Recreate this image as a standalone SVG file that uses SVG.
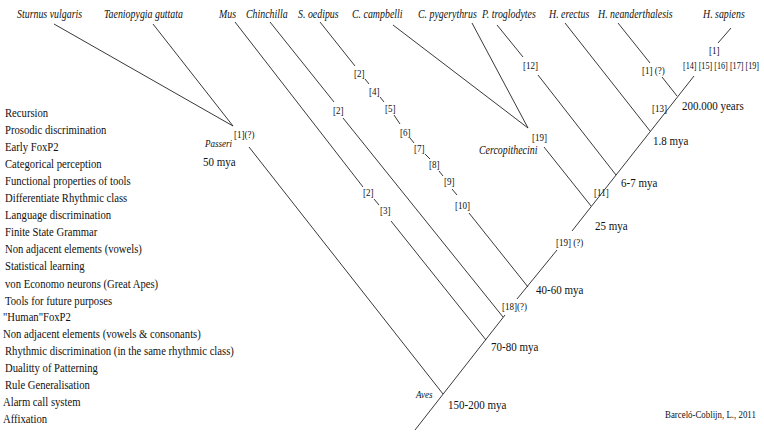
<svg xmlns="http://www.w3.org/2000/svg" width="764" height="440" viewBox="0 0 764 440">
<style>
text{font-family:"Liberation Serif","Times New Roman",serif;fill:#111}
.l{font-size:12.4px}
.n{font-size:12.8px}
.b{font-size:10.5px}
.bs{font-size:9.5px}
.i{font-size:11.5px;font-style:italic}
.s{font-size:10.5px;font-style:italic}
.c{font-size:10.3px}
#connectors line{stroke:#222;stroke-width:0.9;fill:none}
</style>
<rect width="764" height="440" fill="#fff"/>
<g id="traits">
<text class="l" transform="translate(5,117) scale(.86,1)">Recursion</text>
<text class="l" transform="translate(5,134) scale(.86,1)">Prosodic discrimination</text>
<text class="l" transform="translate(5,151) scale(.86,1)">Early FoxP2</text>
<text class="l" transform="translate(5,168) scale(.86,1)">Categorical perception</text>
<text class="l" transform="translate(5,185) scale(.86,1)">Functional properties of tools</text>
<text class="l" transform="translate(5,202) scale(.86,1)">Differentiate Rhythmic class</text>
<text class="l" transform="translate(5,219) scale(.86,1)">Language discrimination</text>
<text class="l" transform="translate(5,236) scale(.86,1)">Finite State Grammar</text>
<text class="l" transform="translate(5,253) scale(.86,1)">Non adjacent elements (vowels)</text>
<text class="l" transform="translate(5,270) scale(.86,1)">Statistical learning</text>
<text class="l" transform="translate(5,288) scale(.86,1)">von Economo neurons (Great Apes)</text>
<text class="l" transform="translate(5,305) scale(.86,1)">Tools for future purposes</text>
<text class="l" transform="translate(3,321) scale(.86,1)">"Human"FoxP2</text>
<text class="l" transform="translate(3,338) scale(.86,1)">Non adjacent elements (vowels &amp; consonants)</text>
<text class="l" transform="translate(5,355) scale(.86,1)">Rhythmic discrimination (in the same rhythmic class)</text>
<text class="l" transform="translate(5,372) scale(.86,1)">Dualitty of Patterning</text>
<text class="l" transform="translate(5,389) scale(.86,1)">Rule Generalisation</text>
<text class="l" transform="translate(3,406) scale(.86,1)">Alarm call system</text>
<text class="l" transform="translate(3,423) scale(.86,1)">Affixation</text>
</g>
<g id="connectors">
<line x1="54" y1="24" x2="233" y2="126"/>
<line x1="153" y1="24" x2="233" y2="126"/>
<line x1="249" y1="147" x2="443" y2="394"/>
<line x1="235" y1="22" x2="363" y2="187"/>
<line x1="374" y1="199" x2="379" y2="205"/>
<line x1="391" y1="221" x2="486" y2="340"/>
<line x1="270" y1="22" x2="334" y2="102"/>
<line x1="343" y1="118" x2="503" y2="317"/>
<line x1="320" y1="22" x2="355" y2="66"/>
<line x1="365" y1="79" x2="369" y2="84"/>
<line x1="380" y1="97" x2="384" y2="102"/>
<line x1="394" y1="115" x2="400" y2="124"/>
<line x1="410" y1="138" x2="414" y2="143"/>
<line x1="425" y1="154" x2="430" y2="159"/>
<line x1="439" y1="171" x2="443" y2="176"/>
<line x1="452" y1="189" x2="457" y2="195"/>
<line x1="469" y1="213" x2="528" y2="287"/>
<line x1="393" y1="25" x2="528" y2="128"/>
<line x1="472" y1="23" x2="528" y2="128"/>
<line x1="544" y1="147" x2="591" y2="206"/>
<line x1="497" y1="25" x2="523" y2="57"/>
<line x1="538" y1="75" x2="616" y2="175"/>
<line x1="565" y1="23" x2="650" y2="131"/>
<line x1="618" y1="23" x2="650" y2="63"/>
<line x1="662" y1="77" x2="677" y2="96"/>
<line x1="731" y1="28" x2="718" y2="43"/>
<line x1="415" y1="430" x2="505" y2="315"/>
<line x1="517" y1="299" x2="557" y2="250"/>
<line x1="572" y1="231" x2="694" y2="76"/>
</g>
<g id="taxa">
<text class="i" transform="translate(17,18) scale(.86,1)">Sturnus vulgaris</text>
<text class="i" transform="translate(104,18) scale(.86,1)">Taeniopygia guttata</text>
<text class="i" transform="translate(219,18) scale(.86,1)">Mus</text>
<text class="i" transform="translate(246,18) scale(.86,1)">Chinchilla</text>
<text class="i" transform="translate(298,18) scale(.86,1)">S. oedipus</text>
<text class="i" transform="translate(352,18) scale(.86,1)">C. campbelli</text>
<text class="i" transform="translate(418,18) scale(.86,1)">C. pygerythrus</text>
<text class="i" transform="translate(482,18) scale(.86,1)">P. troglodytes</text>
<text class="i" transform="translate(549,18) scale(.86,1)">H. erectus</text>
<text class="i" transform="translate(598,18) scale(.86,1)">H. neanderthalesis</text>
<text class="i" transform="translate(703,18) scale(.86,1)">H. sapiens</text>
</g>
<g id="node-passeri">
<text class="b" transform="translate(234,138) scale(.86,1)">[1](?)</text>
<text class="s" transform="translate(205,147) scale(.86,1)">Passeri</text>
<text class="n" transform="translate(203,166) scale(.86,1)">50 mya</text>
</g>
<g id="node-aves">
<text class="s" transform="translate(416,398) scale(.86,1)">Aves</text>
<text class="n" transform="translate(448,409) scale(.86,1)">150-200 mya</text>
</g>
<g id="node-mus">
<text class="b" transform="translate(363,196) scale(.86,1)">[2]</text>
<text class="b" transform="translate(380,214) scale(.86,1)">[3]</text>
<text class="n" transform="translate(491,351) scale(.86,1)">70-80 mya</text>
</g>
<g id="node-chinchilla">
<text class="b" transform="translate(333,114) scale(.86,1)">[2]</text>
<text class="b" transform="translate(502,310) scale(.86,1)">[18](?)</text>
</g>
<g id="node-oedipus">
<text class="b" transform="translate(354,77) scale(.86,1)">[2]</text>
<text class="b" transform="translate(369,95) scale(.86,1)">[4]</text>
<text class="b" transform="translate(385,112) scale(.86,1)">[5]</text>
<text class="b" transform="translate(400,136) scale(.86,1)">[6]</text>
<text class="b" transform="translate(414,152) scale(.86,1)">[7]</text>
<text class="b" transform="translate(429,168) scale(.86,1)">[8]</text>
<text class="b" transform="translate(444,185) scale(.86,1)">[9]</text>
<text class="b" transform="translate(455,209) scale(.86,1)">[10]</text>
<text class="n" transform="translate(536,294) scale(.86,1)">40-60 mya</text>
</g>
<g id="node-cercopithecini">
<text class="b" transform="translate(532,141) scale(.86,1)">[19]</text>
<text class="i" transform="translate(479,154) scale(.86,1)">Cercopithecini</text>
<text class="b" transform="translate(556,246) scale(.86,1)">[19] (?)</text>
<text class="n" transform="translate(595,230) scale(.86,1)">25 mya</text>
</g>
<g id="node-troglodytes">
<text class="b" transform="translate(523,69) scale(.86,1)">[12]</text>
<text class="b" transform="translate(594,196) scale(.86,1)">[11]</text>
<text class="n" transform="translate(621,187) scale(.86,1)">6-7 mya</text>
</g>
<g id="node-erectus">
<text class="n" transform="translate(653,145) scale(.86,1)">1.8 mya</text>
</g>
<g id="node-neanderthalesis">
<text class="b" transform="translate(642,74) scale(.86,1)">[1] (?)</text>
<text class="b" transform="translate(652,112) scale(.86,1)">[13]</text>
<text class="n" transform="translate(682,110) scale(.86,1)">200.000 years</text>
</g>
<g id="node-sapiens">
<text class="b" transform="translate(709,54) scale(.86,1)">[1]</text>
<text class="bs" transform="translate(683,69) scale(.86,1)">[14] [15] [16] [17] [19]</text>
</g>
<g id="credit">
<text class="c" transform="translate(665,418) scale(.86,1)">Barceló-Coblijn, L., 2011</text>
</g>
</svg>
